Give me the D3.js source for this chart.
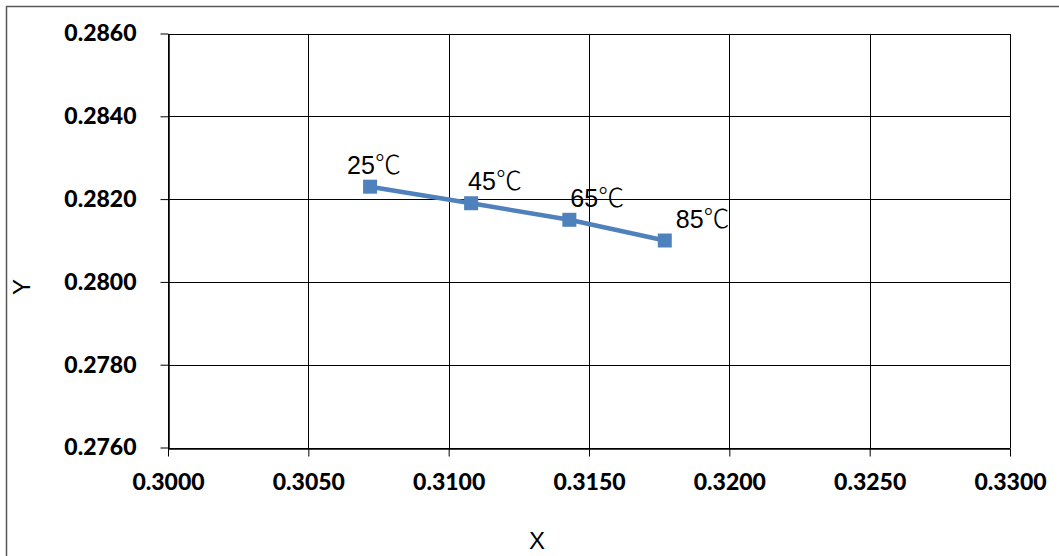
<!DOCTYPE html>
<html>
<head>
<meta charset="utf-8">
<script src="https://cdn.jsdelivr.net/npm/d3@7"></script>
<style>
  html, body { margin: 0; padding: 0; background: #fff; }
  svg { display: block; }
</style>
</head>
<body>
<svg id="chart" width="1059" height="556"></svg>
<script>
// Chromaticity coordinates by temperature
const temps = ["25℃", "45℃", "65℃", "85℃"];
const xVals = [0.3072, 0.3108, 0.3143, 0.3177];
const yVals = [0.2823, 0.2819, 0.2815, 0.2810];
const xTicks = [0.3000, 0.3050, 0.3100, 0.3150, 0.3200, 0.3250, 0.3300];
const yTicks = [0.2760, 0.2780, 0.2800, 0.2820, 0.2840, 0.2860];

const svg = d3.select("#chart");
const W = 1059, H = 556;
const m = { left: 168, right: 1010, top: 33.5, bottom: 447.5 };

// chart frame
svg.append("rect")
  .attr("x", 6.5).attr("y", 6.5)
  .attr("width", W + 10).attr("height", H + 10)
  .attr("fill", "#fff").attr("stroke", "#595959").attr("stroke-width", 1.5);

const x = d3.scaleLinear().domain([0.3000, 0.3300]).range([m.left, m.right]);
const y = d3.scaleLinear().domain([0.2760, 0.2860]).range([m.bottom, m.top]);

const fmt = d3.format(".4f");
const tickFont = "Lato, 'DejaVu Sans', sans-serif";

// gridlines
const grid = svg.append("g").attr("stroke", "#000").attr("stroke-width", 1).attr("shape-rendering", "crispEdges");
grid.selectAll("line.v").data(xTicks).join("line")
  .attr("x1", d => Math.round(x(d)) + 0.5).attr("x2", d => Math.round(x(d)) + 0.5)
  .attr("y1", m.top).attr("y2", m.bottom);
grid.selectAll("line.h").data(yTicks).join("line")
  .attr("y1", d => Math.round(y(d)) + 0.5).attr("y2", d => Math.round(y(d)) + 0.5)
  .attr("x1", m.left).attr("x2", m.right);

// axes
const xAxis = svg.append("g")
  .attr("transform", `translate(0,${Math.round(m.bottom) + 0.5})`)
  .call(d3.axisBottom(x).tickValues(xTicks).tickFormat(fmt).tickSizeInner(8).tickSizeOuter(0).tickPadding(17));
const yAxis = svg.append("g")
  .attr("transform", `translate(${Math.round(m.left) + 0.5},0)`)
  .call(d3.axisLeft(y).tickValues(yTicks).tickFormat(fmt).tickSizeInner(8).tickSizeOuter(0).tickPadding(24));

[xAxis, yAxis].forEach(a => {
  a.select(".domain").attr("stroke", "#000").attr("stroke-width", 1.5);
  a.selectAll(".tick line").attr("stroke", "#000").attr("stroke-width", 1);
  a.selectAll(".tick text")
    .attr("fill", "#000")
    .style("font-family", tickFont)
    .style("font-weight", "900")
    .style("font-size", "23px");
});

// series line and markers
const pts = xVals.map((v, i) => ({ x: v, y: yVals[i], t: temps[i] }));
svg.append("path")
  .datum(pts)
  .attr("fill", "none")
  .attr("stroke", "#4F81BD")
  .attr("stroke-width", 4.5)
  .attr("d", d3.line().x(d => x(d.x)).y(d => y(d.y)));

svg.selectAll("rect.mk").data(pts).join("rect")
  .attr("class", "mk")
  .attr("x", d => x(d.x) - 7).attr("y", d => y(d.y) - 7)
  .attr("width", 14).attr("height", 14)
  .attr("fill", "#4F81BD");

// data labels, nudged to avoid overlapping the line
const labelDx = [-23, -3, 1, 11];
const lbl = svg.selectAll("text.lbl").data(pts).join("text")
  .attr("class", "lbl")
  .attr("x", (d, i) => x(d.x) + labelDx[i])
  .attr("y", d => y(d.y) - 13)
  .attr("fill", "#000")
  .style("font-family", "'Liberation Sans', Arial, sans-serif")
  .style("font-size", "25px");
lbl.append("tspan").text(d => d.t.slice(0, -1));
lbl.append("tspan")
  .style("font-family", "'Noto Sans CJK SC', sans-serif")
  .style("font-weight", "200")
  .style("font-size", "26px")
  .text(d => d.t.slice(-1));

// axis titles
svg.append("text")
  .attr("x", 537).attr("y", 549)
  .attr("text-anchor", "middle")
  .style("font-family", "'Liberation Sans', Arial, sans-serif")
  .style("font-size", "24px")
  .text("X");
svg.append("text")
  .attr("transform", "translate(30,287) rotate(-90)")
  .attr("text-anchor", "middle")
  .style("font-family", "'Liberation Sans', Arial, sans-serif")
  .style("font-size", "24px")
  .text("Y");
</script>
</body>
</html>
